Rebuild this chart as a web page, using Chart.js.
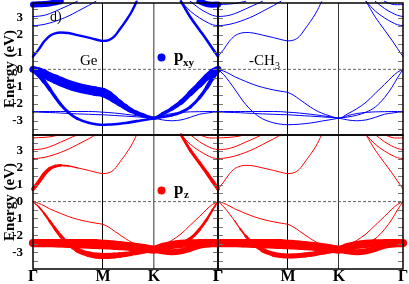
<!DOCTYPE html>
<html>
<head>
<meta charset="utf-8">
<script src="https://cdn.jsdelivr.net/npm/chart.js@4.4.1/dist/chart.umd.min.js"></script>
<style>
body { margin: 0; background: #fff; width: 409px; height: 284px; overflow: hidden; }
canvas { position: absolute; left: 0; top: 0; }
</style>
</head>
<body>
<canvas id="tl" width="409" height="284"></canvas>
<canvas id="tr" width="409" height="284"></canvas>
<canvas id="bl" width="409" height="284"></canvas>
<canvas id="br" width="409" height="284"></canvas>
<script>
// path coordinate along Γ-M-K-Γ (0..1)
var kPath = [0, 0.03, 0.06, 0.09, 0.12, 0.15, 0.19, 0.24, 0.30, 0.34, 0.378, 0.41, 0.44, 0.47, 0.50, 0.53, 0.56, 0.60, 0.654, 0.70, 0.75, 0.80, 0.85, 0.90, 0.94, 0.97, 1.0];
var symPoints = [0, 0.378, 0.654, 1];
var symLabels = ['Γ', 'M', 'K', 'Γ'];
var energyTicks = [-3.5, -3, -2.5, -2, -1.5, -1, -0.5, 0, 0.5, 1, 1.5, 2, 2.5, 3, 3.5];
var fermi = [0, 0];

// band energies (eV)
var vb1 = [0, -0.1, -0.25, -0.43, -0.57, -0.71, -0.88, -1.05, -1.2, -1.28, -1.35, -1.52, -1.75, -1.98, -2.2, -2.4, -2.55, -2.7, -2.85, -2.6, -2.3, -1.92, -1.4, -0.88, -0.45, -0.17, 0];
var vb2 = [0, -0.3, -0.7, -1.15, -1.62, -2.05, -2.5, -2.88, -3.12, -3.2, -3.23, -3.22, -3.2, -3.17, -3.13, -3.08, -3.02, -2.95, -2.85, -2.78, -2.68, -2.5, -2.2, -1.65, -1.05, -0.5, 0];
var vb3 = [-2.5, -2.5, -2.51, -2.52, -2.53, -2.55, -2.57, -2.6, -2.62, -2.64, -2.65, -2.67, -2.69, -2.71, -2.73, -2.75, -2.77, -2.8, -2.85, -2.95, -3.0, -2.95, -2.8, -2.62, -2.55, -2.51, -2.5];
var flat = [-2.46, -2.46, -2.46, -2.46, -2.46, -2.46, -2.46, -2.46, -2.46, -2.47, -2.5, -2.52, -2.55, -2.58, -2.62, -2.66, -2.7, -2.76, -2.85, -2.7, -2.58, -2.51, -2.48, -2.47, -2.46, -2.46, -2.46];
var cb1 = [0.75, 1.15, 1.62, 1.95, 2.1, 2.15, 2.12, 2.0, 1.85, 1.74, 1.66, 1.71, 1.92, 2.35, 2.8, 3.3, 3.95, null, null, null, null, 3.97, 3.05, 2.3, 1.7, 1.22, 0.75];
var cbA = [2.55, 2.57, 2.62, 2.7, 2.8, 2.92, 3.1, 3.38, 3.72, 3.97, null, null, null, null, null, null, null, null, null, null, null, 3.97, 3.4, 3.0, 2.75, 2.6, 2.55];
var cbB = [3.08, 3.1, 3.15, 3.25, 3.38, 3.53, 3.72, 3.97, null, null, null, null, null, null, null, null, null, null, null, null, null, null, 3.97, 3.55, 3.3, 3.15, 3.08];
var cbC = [3.78, 3.79, 3.81, 3.84, 3.9, 3.97, null, null, null, null, null, null, null, null, null, null, null, null, null, null, null, null, null, 3.97, 3.8, 3.77, 3.78];

// orbital weights (0..1)
var vb1GeXY = [0.6, 0.65, 0.72, 0.78, 0.82, 0.85, 0.85, 0.85, 0.85, 0.85, 0.82, 0.75, 0.62, 0.52, 0.45, 0.4, 0.35, 0.3, 0.22, 0.25, 0.3, 0.36, 0.43, 0.5, 0.56, 0.6, 0.6];
var vb2GeXY = [0.45, 0.4, 0.33, 0.27, 0.22, 0.2, 0.18, 0.16, 0.16, 0.16, 0.16, 0.16, 0.16, 0.16, 0.16, 0.16, 0.16, 0.16, 0.16, 0.16, 0.16, 0.18, 0.2, 0.22, 0.27, 0.35, 0.45];
var cb1GeXY = [0.14, 0.14, 0.14, 0.14, 0.14, 0.14, 0.14, 0.14, 0.14, 0.14, 0.14, 0.14, 0.14, 0.14, 0.14, 0.14, 0.14, 0, 0, 0, 0, 0.16, 0.16, 0.16, 0.16, 0.16, 0.16];
var cbCGeXY = [0.5, 0.5, 0.5, 0.5, 0.5, 0.5, 0, 0, 0, 0, 0, 0, 0, 0, 0, 0, 0, 0, 0, 0, 0, 0, 0, 0.5, 0.5, 0.5, 0.5];
var cb1GePZ = [0.28, 0.28, 0.28, 0.25, 0.2, 0.12, 0.05, 0, 0, 0, 0, 0, 0, 0, 0, 0, 0, 0, 0, 0, 0, 0.16, 0.2, 0.22, 0.25, 0.26, 0.28];
var vb2GePZ = [0, 0.03, 0.1, 0.16, 0.2, 0.24, 0.28, 0.36, 0.46, 0.5, 0.52, 0.5, 0.48, 0.45, 0.42, 0.4, 0.38, 0.36, 0.33, 0.3, 0.28, 0.25, 0.22, 0.2, 0.16, 0.1, 0.05];
var vb3GePZ = [0.5, 0.5, 0.5, 0.5, 0.5, 0.5, 0.5, 0.5, 0.5, 0.5, 0.5, 0.5, 0.5, 0.5, 0.5, 0.5, 0.5, 0.5, 0.5, 0.5, 0.5, 0.5, 0.5, 0.5, 0.5, 0.5, 0.5];
var flatGePZ = [0.72, 0.72, 0.72, 0.72, 0.72, 0.72, 0.72, 0.72, 0.72, 0.72, 0.72, 0.72, 0.72, 0.72, 0.72, 0.72, 0.72, 0.72, 0.72, 0.72, 0.72, 0.72, 0.72, 0.72, 0.72, 0.72, 0.72];
var vb2ChPZ = [0, 0, 0, 0, 0.05, 0.12, 0.22, 0.32, 0.4, 0.42, 0.42, 0.42, 0.42, 0.4, 0.4, 0.38, 0.38, 0.36, 0.35, 0.25, 0.15, 0.05, 0, 0, 0, 0, 0];
var vb3ChPZ = vb3GePZ;
var flatChPZ = flatGePZ;

var serif = '"Liberation Serif", "Times New Roman", serif';
var BLUE = '#0000ff', RED = '#ff0000';

function pts(e) {
    return kPath.map(function (k, i) { return {x: k, y: e[i]}; });
}

function band(e, w, color) {
    return {
        data: pts(e),
        borderColor: color,
        borderWidth: 1,
        pointRadius: 0,
        cubicInterpolationMode: 'monotone',
        spanGaps: false,
        borderCapStyle: 'round',
        borderJoinStyle: 'round',
        clip: 5,
        segment: {
            borderWidth: function (c) {
                if (!w) return 1;
                return 1 + 10 * (w[c.p0DataIndex] + w[c.p1DataIndex]) / 2;
            }
        }
    };
}

function zeroLine() {
    return {
        data: [{x: symPoints[0], y: fermi[0]}, {x: symPoints[3], y: fermi[1]}],
        borderColor: '#666',
        borderWidth: 1,
        borderDash: [3, 2],
        pointRadius: 0,
        clip: 0
    };
}

function decor(texts, dot) {
    return {
        id: 'decor',
        afterDraw: function (chart) {
            var c = chart.ctx, a = chart.chartArea, y = chart.scales.y;
            c.save();
            c.strokeStyle = '#777';
            c.lineWidth = 1;
            energyTicks.forEach(function (v) {
                var py = Math.round(y.getPixelForValue(v)) + 0.5;
                c.beginPath();
                c.moveTo(a.left, py); c.lineTo(a.left + 5, py);
                c.moveTo(a.right, py); c.lineTo(a.right - 5, py);
                c.stroke();
            });
            c.strokeStyle = '#000';
            c.lineWidth = 1.5;
            c.strokeRect(a.left, a.top, a.right - a.left, a.bottom - a.top);
            if (dot) {
                c.fillStyle = dot.color;
                c.beginPath();
                c.arc(dot.x, dot.y, 4, 0, 2 * Math.PI);
                c.fill();
            }
            c.fillStyle = '#000';
            texts.forEach(function (t) {
                c.font = t.font;
                c.fillText(t.text, t.x, t.y);
            });
            c.restore();
        }
    };
}

function panel(id, sets, o) {
    new Chart(document.getElementById(id), {
        type: 'line',
        data: {datasets: sets},
        options: {
            responsive: false,
            animation: false,
            devicePixelRatio: 1,
            layout: {padding: o.pad},
            plugins: {legend: {display: false}, tooltip: {enabled: false}},
            scales: {
                x: {
                    type: 'linear', min: 0, max: 1,
                    afterBuildTicks: function (s) {
                        s.ticks = symPoints.map(function (v) { return {value: v}; });
                    },
                    afterFit: function (s) {
                        s.height = o.xLab ? 15 : 0;
                        s.paddingLeft = 0; s.paddingRight = 0;
                    },
                    ticks: {
                        display: o.xLab, autoSkip: false, maxRotation: 0, padding: 0, color: '#000',
                        font: {family: serif, size: 16, weight: 'bold', lineHeight: 1},
                        callback: function (v, i) { return symLabels[i]; }
                    },
                    grid: {
                        drawTicks: false,
                        color: function (c) {
                            var v = c.tick ? c.tick.value : 0;
                            if (v === 0 || v === 1) return 'rgba(0,0,0,0)';
                            if (v === symPoints[2]) return o.kColor;
                            return '#000';
                        },
                        lineWidth: function (c) {
                            return (c.tick && c.tick.value === symPoints[2]) ? o.kWidth : 1;
                        }
                    },
                    border: {display: false}
                },
                y: {
                    type: 'linear', min: o.yMin, max: o.yMax,
                    display: o.yLab,
                    afterBuildTicks: function (s) {
                        s.ticks = energyTicks.map(function (v) { return {value: v}; });
                    },
                    afterFit: function (s) {
                        s.width = o.yLab ? 33 : 0;
                        s.paddingTop = 0; s.paddingBottom = 0;
                    },
                    ticks: {
                        autoSkip: false, padding: 2, color: '#000',
                        font: {family: serif, size: 13, weight: 'bold'},
                        callback: function (v) { return Number.isInteger(v) ? String(v) : ''; }
                    },
                    title: {
                        display: true, text: 'Energy (eV)', color: '#000',
                        font: {family: serif, size: 15, weight: 'bold'},
                        padding: {top: 1, bottom: 0}
                    },
                    grid: {display: false},
                    border: {display: false}
                }
            }
        },
        plugins: [decor(o.texts, o.dot)]
    });
}

panel('tl', [
    band(vb1, vb1GeXY, BLUE), band(vb2, vb2GeXY, BLUE), band(vb3, null, BLUE), band(flat, null, BLUE),
    band(cb1, cb1GeXY, BLUE), band(cbA, null, BLUE), band(cbB, null, BLUE), band(cbC, cbCGeXY, BLUE),
    zeroLine()
], {
    pad: {left: 0, top: 3, right: 191, bottom: 149}, xLab: false, yLab: true,
    yMin: -3.83, yMax: 3.87, kColor: '#777', kWidth: 1.5,
    texts: [
        {text: 'd)', x: 50, y: 21, font: '14px ' + serif},
        {text: 'Ge', x: 80, y: 65, font: '15px ' + serif},
        {text: 'p', x: 174, y: 61, font: 'bold 17px ' + serif},
        {text: 'xy', x: 183, y: 66, font: 'bold 11px ' + serif}
    ],
    dot: {x: 161.5, y: 57.5, color: BLUE}
});

panel('tr', [
    band(vb1, null, BLUE), band(vb2, null, BLUE), band(vb3, null, BLUE), band(flat, null, BLUE),
    band(cb1, null, BLUE), band(cbA, null, BLUE), band(cbB, null, BLUE), band(cbC, null, BLUE),
    zeroLine()
], {
    pad: {left: 218, top: 3, right: 6, bottom: 149}, xLab: false, yLab: false,
    yMin: -3.83, yMax: 3.87, kColor: '#333', kWidth: 1,
    texts: [
        {text: '-CH', x: 249, y: 65, font: '15px ' + serif},
        {text: '3', x: 275, y: 69, font: '10px ' + serif}
    ],
    dot: null
});

panel('bl', [
    band(flat, flatGePZ, RED), band(vb3, vb3GePZ, RED), band(vb2, vb2GePZ, RED), band(vb1, null, RED),
    band(cb1, cb1GePZ, RED), band(cbA, null, RED), band(cbB, null, RED), band(cbC, null, RED),
    zeroLine()
], {
    pad: {left: 0, top: 135, right: 191, bottom: 0}, xLab: true, yLab: true,
    yMin: -4.0, yMax: 3.95, kColor: '#777', kWidth: 1.5,
    texts: [
        {text: 'p', x: 174, y: 194, font: 'bold 17px ' + serif},
        {text: 'z', x: 184, y: 198, font: 'bold 11px ' + serif}
    ],
    dot: {x: 161.5, y: 190.5, color: RED}
});

panel('br', [
    band(flat, flatChPZ, RED), band(vb3, vb3ChPZ, RED), band(vb2, vb2ChPZ, RED), band(vb1, null, RED),
    band(cb1, null, RED), band(cbA, null, RED), band(cbB, null, RED), band(cbC, null, RED),
    zeroLine()
], {
    pad: {left: 218, top: 135, right: 6, bottom: 0}, xLab: true, yLab: false,
    yMin: -4.0, yMax: 3.95, kColor: '#333', kWidth: 1,
    texts: [],
    dot: null
});
</script>
</body>
</html>
